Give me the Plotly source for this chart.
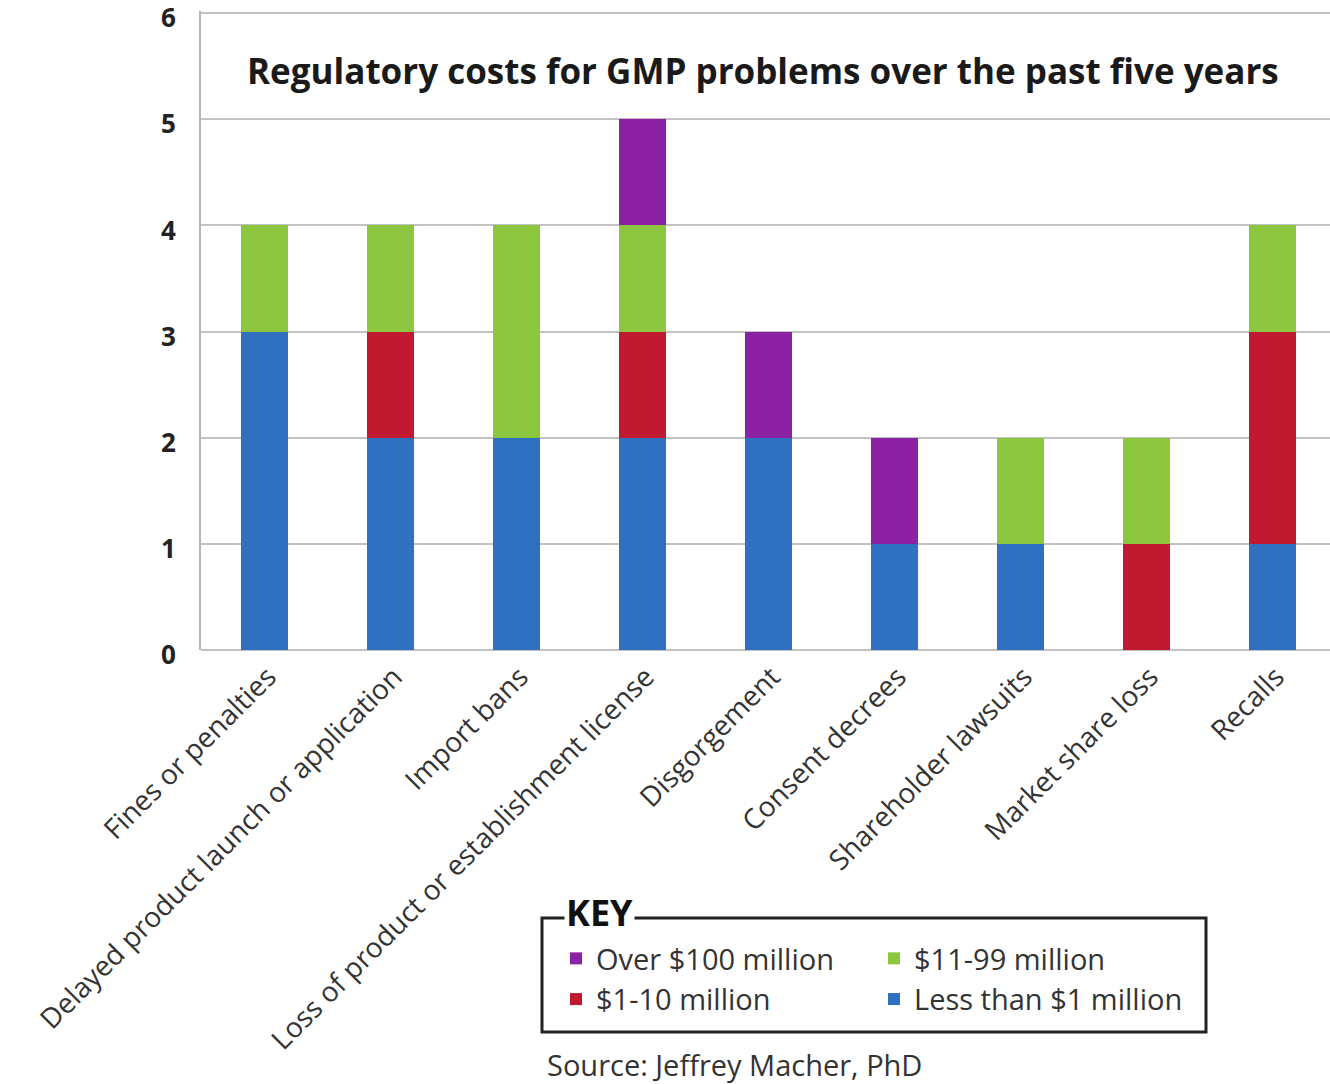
import plotly.graph_objects as go

categories = [
    "Fines or penalties",
    "Delayed product launch or application",
    "Import bans",
    "Loss of product or establishment license",
    "Disgorgement",
    "Consent decrees",
    "Shareholder lawsuits",
    "Market share loss",
    "Recalls",
]
less_than_1m = [3, 2, 2, 2, 2, 1, 1, 0, 1]
m1_10 = [0, 1, 0, 1, 0, 0, 0, 1, 2]
m11_99 = [1, 1, 2, 1, 0, 0, 1, 1, 1]
over_100m = [0, 0, 0, 1, 1, 1, 0, 0, 0]

series_names = ["Less than $1 million", "$1-10 million", "$11-99 million", "Over $100 million"]
series_values = [less_than_1m, m1_10, m11_99, over_100m]
series_colors = ["#2f70c1", "#c1192f", "#8cc63f", "#8c22a3"]
series_legend = ["legend2", "legend", "legend2", "legend"]

W, H = 1330, 1084
ML, MR, MT, MB = 201, 0, 11, 434
PW = W - ML - MR
PH = H - MT - MB


def px2x(px):
    return (px - ML) / PW


def px2y(py):
    return (H - MB - py) / PH


FONT = "Open Sans"

fig = go.Figure()
for name, vals, col, lg in zip(series_names, series_values, series_colors, series_legend):
    fig.add_trace(go.Bar(
        x=categories, y=vals, name=name, marker=dict(color=col, line=dict(width=0)),
        legend=lg,
    ))

fig.update_layout(
    width=W, height=H,
    margin=dict(l=ML, r=MR, t=MT, b=MB, pad=0, autoexpand=False),
    barmode="stack",
    bargap=0.627,
    plot_bgcolor="white",
    paper_bgcolor="white",
    font=dict(family=FONT, color="#222"),
    xaxis=dict(
        range=[-0.5, 8.46], tickangle=-45, showgrid=False, showline=False,
        ticks="", tickfont=dict(size=28, color="#333", family=FONT), zeroline=False,
        ticklabelstandoff=4, ticklabelshift=4, automargin=False,
    ),
    yaxis=dict(
        range=[0, 6.02], dtick=1, showgrid=True, gridcolor="#c2c2c2", gridwidth=2,
        showline=True, linecolor="#b5b5b5", linewidth=2, zeroline=True,
        zerolinecolor="#c2c2c2", zerolinewidth=2, ticks="", ticklabelstandoff=18,
        ticklabelshift=5, ticklabeloverflow="allow", automargin=False,
        tickfont=dict(size=26, color="#222", family=FONT, weight="bold"),
    ),
    legend=dict(
        x=px2x(556), xanchor="left", y=px2y(933), yanchor="top",
        traceorder="reversed", bgcolor="rgba(0,0,0,0)",
        font=dict(size=29, color="#333", family=FONT), itemclick=False,
    ),
    legend2=dict(
        x=px2x(874), xanchor="left", y=px2y(933), yanchor="top",
        traceorder="reversed", bgcolor="rgba(0,0,0,0)",
        font=dict(size=29, color="#333", family=FONT), itemclick=False,
    ),
    showlegend=True,
)

# KEY box
fig.add_shape(type="rect", xref="paper", yref="paper",
              x0=px2x(542), x1=px2x(1206), y0=px2y(918), y1=px2y(1032),
              line=dict(color="#222", width=3), fillcolor="rgba(0,0,0,0)")
fig.add_annotation(text="<b>KEY</b>", xref="paper", yref="paper",
                   x=px2x(564), y=px2y(912), xanchor="left", yanchor="middle",
                   showarrow=False, bgcolor="white", borderpad=1,
                   font=dict(size=36, color="#111", family=FONT))

# Title
fig.add_annotation(text="<b>Regulatory costs for GMP problems over the past five years</b>",
                   xref="paper", yref="paper", x=px2x(763), y=px2y(70),
                   xanchor="center", yanchor="middle", showarrow=False,
                   font=dict(size=35, color="#1a1a1a", family=FONT))

# Source
fig.add_annotation(text="Source: Jeffrey Macher, PhD", xref="paper", yref="paper",
                   x=px2x(545), y=px2y(1064), xanchor="left", yanchor="middle",
                   showarrow=False, font=dict(size=29, color="#333", family=FONT))

fig.write_html("out.html")
